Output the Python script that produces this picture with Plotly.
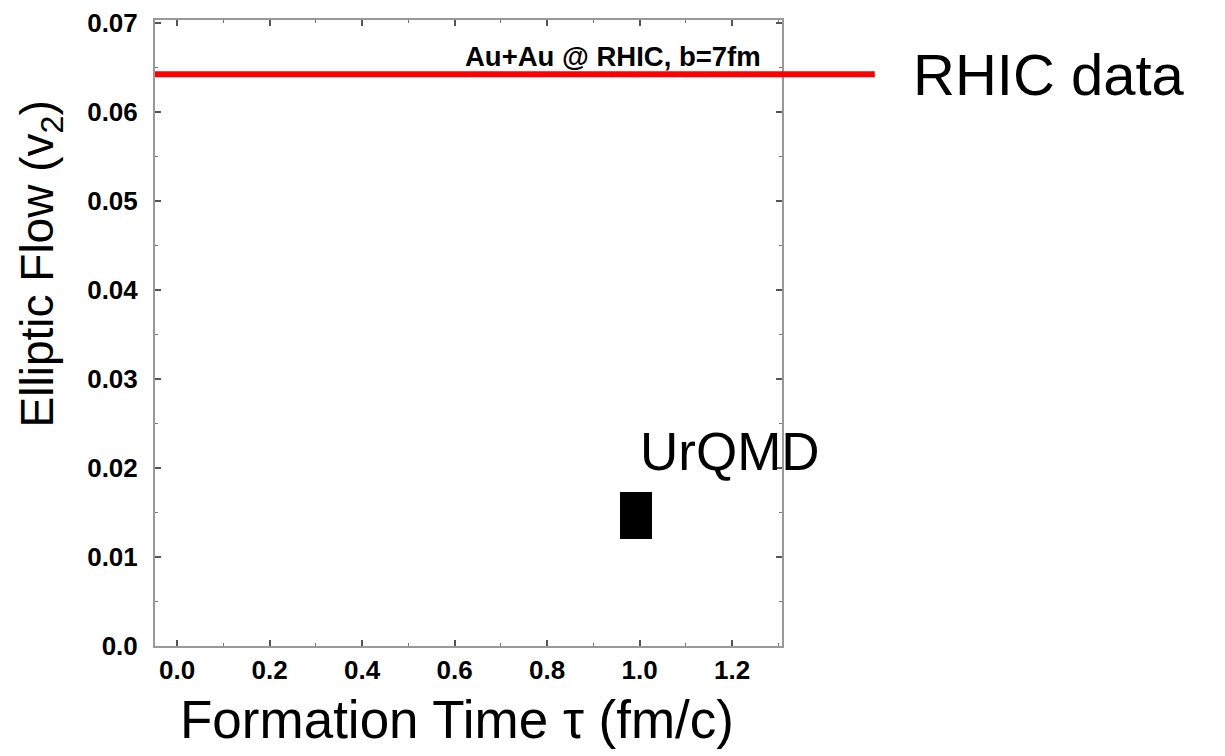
import plotly.graph_objects as go

# Data
rhic_label = "RHIC data"
rhic_v2 = [0.0642]
urqmd_label = "UrQMD"
urqmd_tau = [0.992]
urqmd_v2_low = [0.0120]
urqmd_v2_high = [0.0173]
urqmd_width = [0.069]
x_ticks = [0.0, 0.2, 0.4, 0.6, 0.8, 1.0, 1.2]
x_ticklabels = ["0.0", "0.2", "0.4", "0.6", "0.8", "1.0", "1.2"]
y_ticks = [0.0, 0.01, 0.02, 0.03, 0.04, 0.05, 0.06, 0.07]
y_ticklabels = ["0.0", "0.01", "0.02", "0.03", "0.04", "0.05", "0.06", "0.07"]
x_title = "Formation Time \u03c4 (fm/c)"
y_title = "Elliptic Flow (v<sub>2</sub>)"
panel_label = "Au+Au @ RHIC, b=7fm"

fig = go.Figure()

fig.add_trace(go.Bar(
    x=urqmd_tau,
    base=urqmd_v2_low,
    y=[h - l for h, l in zip(urqmd_v2_high, urqmd_v2_low)],
    width=urqmd_width,
    marker=dict(color="black", line=dict(width=0)),
    showlegend=False,
    hoverinfo="skip",
))

# RHIC data line, extending past the frame
fig.add_shape(type="line", xref="paper", yref="y",
              x0=0, x1=1.148, y0=rhic_v2[0], y1=rhic_v2[0],
              line=dict(color="#ff0000", width=6), layer="above")

tickfont = dict(family="Liberation Sans", size=26, color="black", weight="bold")
frame_color = "#999999"

fig.update_layout(
    width=1217, height=748,
    margin=dict(l=147, r=443, t=12, b=110, autoexpand=False),
    paper_bgcolor="white", plot_bgcolor="white",
    font=dict(family="Liberation Sans", color="black"),
    xaxis=dict(
        range=[-0.048, 1.308], automargin=False, ticklabeloverflow="allow",
        tickmode="array", tickvals=x_ticks, ticktext=x_ticklabels,
        ticks="inside", ticklen=6, tickwidth=1.5, tickcolor="#555",
        minor=dict(dtick=0.1, ticks="inside", ticklen=3, tickcolor="#777", tickwidth=1),
        showline=True, linecolor=frame_color, linewidth=2, mirror="ticks",
        showgrid=False, zeroline=False,
        tickfont=tickfont, ticklabelstandoff=0,
    ),
    yaxis=dict(
        range=[0, 0.0703], automargin=False, ticklabeloverflow="allow",
        tickmode="array", tickvals=y_ticks, ticktext=y_ticklabels,
        ticks="inside", ticklen=6, tickwidth=1.5, tickcolor="#555",
        minor=dict(dtick=0.005, ticks="inside", ticklen=3, tickcolor="#777", tickwidth=1),
        showline=True, linecolor=frame_color, linewidth=2, mirror="ticks",
        showgrid=False, zeroline=False,
        tickfont=tickfont, ticklabelstandoff=10,
    ),
    bargap=0,
)

fig.add_annotation(text=x_title, xref="paper", yref="paper",
                   x=0.481, y=-0.118, xanchor="center", yanchor="middle",
                   showarrow=False,
                   font=dict(family="Liberation Sans", size=53, color="black"))

fig.add_annotation(text=y_title, xref="paper", yref="paper",
                   x=-0.183, y=0.61, xanchor="center", yanchor="middle",
                   textangle=-90, showarrow=False,
                   font=dict(family="Liberation Sans", size=46, color="black"))

fig.add_annotation(text=panel_label, xref="paper", yref="paper",
                   x=0.97, y=0.941, xanchor="right", yanchor="middle",
                   showarrow=False,
                   font=dict(family="Liberation Sans", size=27.5, color="black", weight="bold"))

fig.add_annotation(text=rhic_label, xref="paper", yref="y",
                   x=1.205, y=rhic_v2[0], xanchor="left", yanchor="middle",
                   showarrow=False,
                   font=dict(family="Liberation Sans", size=58, color="black"))

fig.add_annotation(text=urqmd_label, xref="x", yref="y",
                   x=urqmd_tau[0], y=urqmd_v2_high[0], xanchor="left", yanchor="bottom",
                   xshift=2, yshift=9, showarrow=False,
                   font=dict(family="Liberation Sans", size=53, color="black"))

fig.write_html("out.html")
